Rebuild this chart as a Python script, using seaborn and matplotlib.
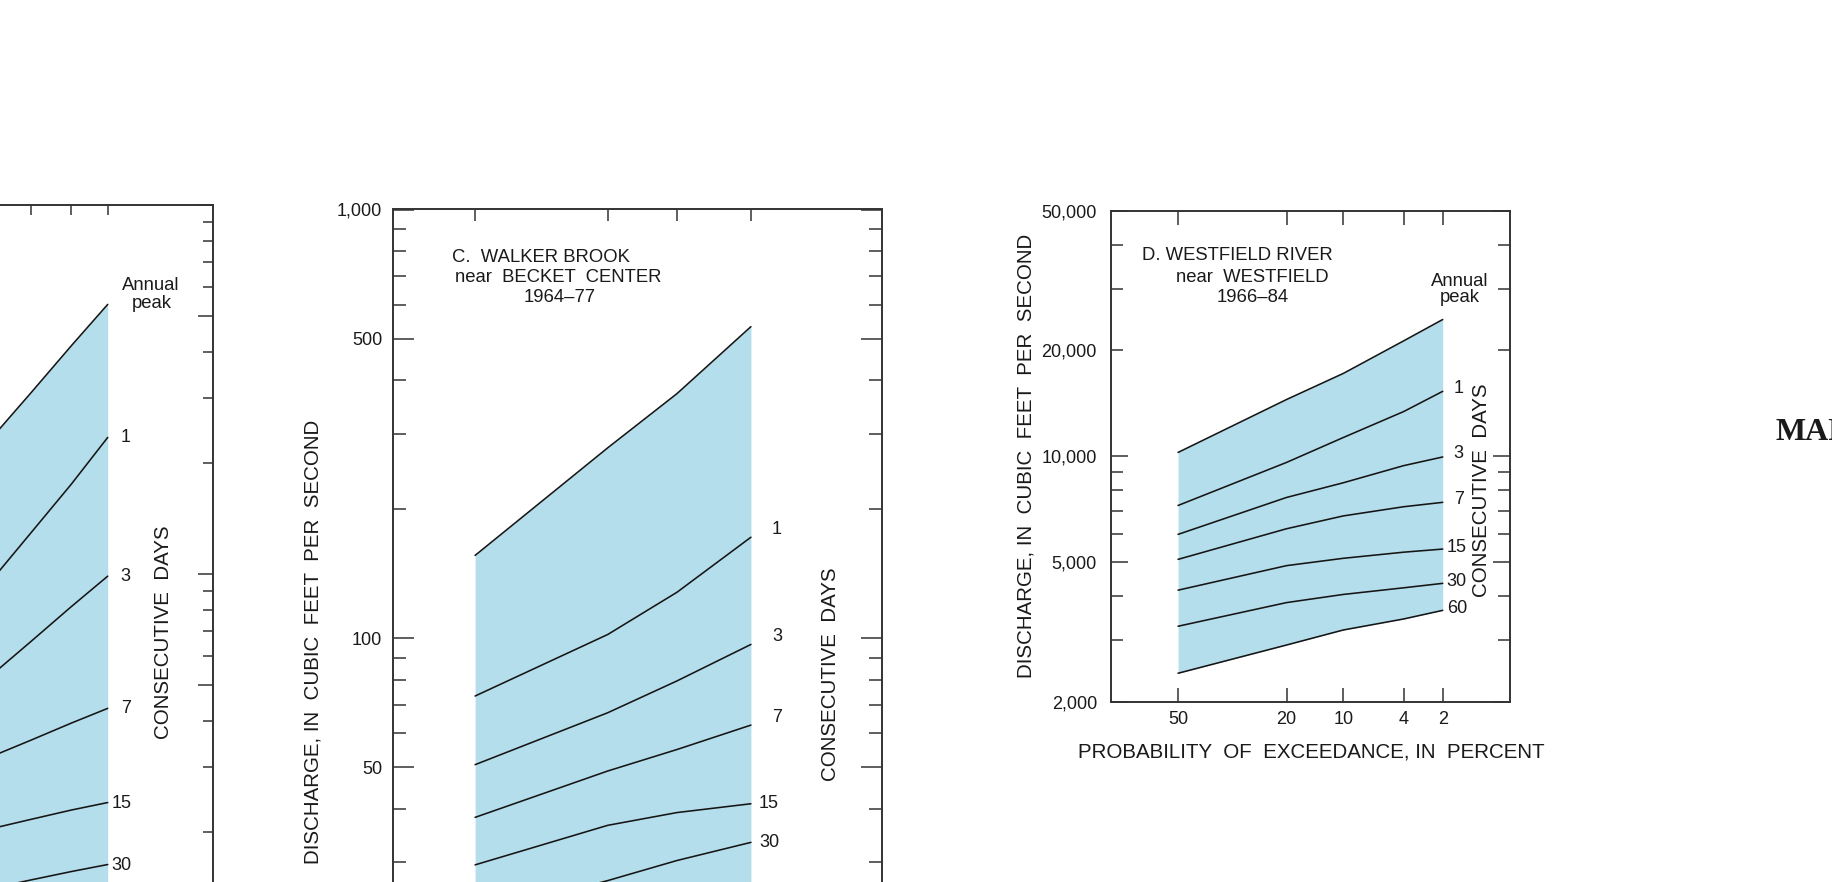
from statistics import NormalDist

import matplotlib
matplotlib.use("Agg")
from matplotlib import pyplot as plt
from matplotlib.ticker import FixedLocator, FuncFormatter, NullLocator
import numpy as np
import pandas as pd
import seaborn as sns

# Exceedance probabilities (percent) at which the curves were read
probs_b = [10, 4, 2, 1]
probs_c = [50, 20, 10, 4]
probs_d = [50, 20, 10, 4, 2]

# Panel B (cut off at the left edge of the page)
b_peak = [1971, 3091, 4152, 5377]
b_1 = [805, 1290, 1750, 2344]
b_3 = [469, 655, 815, 986]
b_7 = [301, 354, 394, 432]
b_15 = [197, 216, 229, 240]
b_30 = [136, 148, 156, 163]

# Panel C: Walker Brook near Becket Center
c_peak = [156, 278, 372, 533]
c_1 = [73.3, 102, 128, 172]
c_3 = [50.7, 67, 79.5, 96.7]
c_7 = [38.2, 49, 55, 62.7]
c_15 = [29.6, 36.6, 39.2, 41.1]
c_30 = [22.6, 27.2, 30.3, 33.4]

# Panel D: Westfield River near Westfield
d_peak = [10250, 14500, 17200, 21300, 24500]
d_1 = [7240, 9600, 11300, 13400, 15300]
d_3 = [5990, 7630, 8400, 9400, 9950]
d_7 = [5085, 6215, 6760, 7180, 7390]
d_15 = [4155, 4880, 5120, 5330, 5440]
d_30 = [3280, 3830, 4040, 4220, 4345]
d_60 = [2410, 2900, 3200, 3440, 3640]

days_b = ['1', '3', '7', '15', '30']
days_c = ['1', '3', '7', '15', '30']
days_d = ['1', '3', '7', '15', '30', '60']

xticks_b = [50, 20, 10, 4, 2, 1]
xticks_c = [50, 20, 10, 4]
xticks_d = [50, 20, 10, 4, 2]
xticklabels_d = ['50', '20', '10', '4', '2']

ymajor_b = [10000, 5000, 1000, 500, 100]
yminor_b = [9000, 8000, 7000, 6000, 4000, 3000, 2000,
            900, 800, 700, 600, 400, 300, 200]
ymajor_c = [1000, 500, 100, 50, 10]
yminor_c = [900, 800, 700, 600, 400, 300, 200, 90, 80, 70, 60, 40, 30, 20]
ymajor_d = [50000, 10000, 5000, 2000]
yminor_d = [40000, 30000, 20000, 9000, 8000, 7000, 6000, 4000, 3000]

W, H = 1832, 882
INK = '#1a1a1a'
FRAME = '#333333'
FILL = '#b4deeb'

sns.set_style('white')
plt.rcParams['font.family'] = ['Liberation Sans', 'DejaVu Sans']

nd = NormalDist()


def fwd(p):
    # exceedance percent -> standard normal deviate (normal probability paper)
    p = np.clip(np.asarray(p, dtype=float), 1e-9, 100 - 1e-9)
    return np.vectorize(lambda v: nd.inv_cdf(1 - v / 100), otypes=[float])(p)


def inv(z):
    z = np.asarray(z, dtype=float)
    return np.vectorize(lambda v: 100 * (1 - nd.cdf(v)), otypes=[float])(z)


def long_frame(probs, curves, names):
    rows = []
    for name, vals in zip(names, curves):
        for p, v in zip(probs, vals):
            rows.append({'prob': p, 'discharge': v, 'curve': name})
    return pd.DataFrame(rows)


def px(x, y):
    return x / W, 1 - y / H


def put(x, y, s, **kw):
    kw.setdefault('color', INK)
    kw.setdefault('ha', 'center')
    kw.setdefault('va', 'center')
    fig.text(*px(x, y), s, **kw)


def panel(box, ylim, xticks, ymajor, yminor, xlen, ymaj_len, ymin_len,
          ypad, xlabels=None, minor_label=None, ylabels=True):
    left, top, right, bottom = box
    ax = fig.add_axes([left / W, 1 - bottom / H, (right - left) / W, (bottom - top) / H])
    ax.set_xscale('function', functions=(fwd, inv))
    ax.set_yscale('log')
    ax.set_ylim(*ylim)
    ax.xaxis.set_major_locator(FixedLocator(xticks))
    ax.xaxis.set_minor_locator(NullLocator())
    if xlabels is None:
        ax.xaxis.set_major_formatter(FuncFormatter(lambda v, pos: ''))
    else:
        lab = dict(zip(xticks, xlabels))
        ax.xaxis.set_major_formatter(FuncFormatter(
            lambda v, pos: next((s for t, s in lab.items() if np.isclose(v, t)), '')))
    ax.yaxis.set_major_locator(FixedLocator(ymajor))
    ax.yaxis.set_minor_locator(FixedLocator(yminor))
    ax.yaxis.set_major_formatter(FuncFormatter(lambda v, pos: f'{v:,.0f}'))
    if minor_label is None:
        ax.yaxis.set_minor_formatter(FuncFormatter(lambda v, pos: ''))
    else:
        ax.yaxis.set_minor_formatter(FuncFormatter(
            lambda v, pos: f'{v:,.0f}' if np.isclose(v, minor_label) else ''))
    ax.tick_params(axis='x', which='major', direction='in', length=xlen, width=1.1,
                   color=FRAME, top=True, bottom=True, labelsize=13, labelcolor=INK, pad=7)
    ax.tick_params(axis='y', which='major', direction='in', length=ymaj_len, width=1.1,
                   color=FRAME, left=True, right=True, labelsize=13, labelcolor=INK,
                   pad=ypad, labelleft=ylabels)
    ax.tick_params(axis='y', which='minor', direction='in', length=ymin_len, width=1.1,
                   color=FRAME, left=True, right=True, labelsize=13, labelcolor=INK,
                   pad=ypad, labelleft=ylabels)
    for sp in ax.spines.values():
        sp.set_visible(True)
        sp.set_color(FRAME)
        sp.set_linewidth(1.4)
    ax.set_facecolor('none')
    return ax


def set_prob_limits(ax, high, low):
    # high exceedance (e.g. 70 %) on the left, rare floods on the right
    ax.set_xlim(high, low)
    y0 = ax.get_ylim()[0]
    xa = ax.transData.transform((high, y0))[0]
    xb = ax.transData.transform((low, y0))[0]
    if xa > xb:
        ax.invert_xaxis()


def draw_curves(ax, probs, peak, days, names, lower):
    df = long_frame(probs, [peak] + days, ['peak'] + names)
    ax.fill_between(probs, lower, peak, color=FILL, lw=0, zorder=0)
    sns.lineplot(data=df, x='prob', y='discharge', units='curve', estimator=None,
                 color='#151515', lw=1.15, ax=ax, legend=False)
    ax.set_xlabel('')
    ax.set_ylabel('')


def label_days(ax, probs, days, names, single, double):
    for vals, lab in zip(days, names):
        dx, dy = single if len(lab) == 1 else double
        ax.annotate(lab, xy=(probs[-1], vals[-1]), xytext=(dx * 0.72, dy * 0.72),
                    textcoords='offset points', ha='left', va='center',
                    fontsize=13, color=INK, annotation_clip=False)


fig = plt.figure(figsize=(W / 100, H / 100), dpi=100)
fig.patch.set_facecolor('white')

# ---- Panel B (partial, its left side is off the page) ----
ax_b = panel((-273.6, 205, 213.2, 942.8), (100, 10000),
             xticks_b, ymajor_b, yminor_b, 7.2, 10.8, 7.2, 8, ylabels=False)
curves_b = [b_1, b_3, b_7, b_15, b_30]
draw_curves(ax_b, probs_b, b_peak, curves_b, days_b, 100)
set_prob_limits(ax_b, 70, 0.092)
ax_b.set_ylim(100, 10000)
label_days(ax_b, probs_b, curves_b, days_b, (13, 0), (4, -1))
put(151, 285, 'Annual', fontsize=13.3)
put(151.5, 304, 'peak', fontsize=13.3)
put(163.5, 632, 'CONSECUTIVE  DAYS', fontsize=14.8, rotation=90)

# ---- Panel C ----
ax_c = panel((392.5, 209.5, 882, 1066.9), (10, 1000),
             xticks_c, ymajor_c, yminor_c, 8.9, 15, 9.4, 7.5)
curves_c = [c_1, c_3, c_7, c_15, c_30]
draw_curves(ax_c, probs_c, c_peak, curves_c, days_c, 10)
set_prob_limits(ax_c, 70, 0.49)
ax_c.set_ylim(10, 1000)
label_days(ax_c, probs_c, curves_c, days_c, (21, 7.5), (8, 0))
put(541, 257.5, 'C.  WALKER BROOK', fontsize=13.3)
put(558, 277, 'near  BECKET  CENTER', fontsize=13.3)
put(560, 298, '1964\u201377', fontsize=13.3)
put(313, 642, 'DISCHARGE, IN  CUBIC  FEET  PER  SECOND', fontsize=14.8, rotation=90)
put(830.5, 674.5, 'CONSECUTIVE  DAYS', fontsize=14.8, rotation=90)

# ---- Panel D ----
ax_d = panel((1110.5, 210.7, 1510, 701.7), (2000, 50000),
             xticks_d, ymajor_d, yminor_d, 10, 12.2, 8.6, 9.8,
             xlabels=xticklabels_d, minor_label=20000)
curves_d = [d_1, d_3, d_7, d_15, d_30, d_60]
draw_curves(ax_d, probs_d, d_peak, curves_d, days_d, d_60)
set_prob_limits(ax_d, 70, 0.5)
ax_d.set_ylim(2000, 50000)
label_days(ax_d, probs_d, curves_d, days_d, (11, 3), (4, 2))
put(1237, 256, 'D. WESTFIELD RIVER', fontsize=13.3)
put(1252, 277, 'near  WESTFIELD', fontsize=13.3)
put(1253, 297, '1966\u201384', fontsize=13.3)
put(1460, 281.5, 'Annual', fontsize=13.3)
put(1460, 297.5, 'peak', fontsize=13.3)
put(1481.5, 490.5, 'CONSECUTIVE  DAYS', fontsize=14.8, rotation=90)
put(1025.5, 456, 'DISCHARGE, IN  CUBIC  FEET  PER  SECOND', fontsize=14.8, rotation=90)
put(1311.5, 752.5, 'PROBABILITY  OF  EXCEEDANCE, IN  PERCENT', fontsize=14.8)

# page text running off the right edge
fig.text(*px(1776, 440), 'MAP', fontsize=23, fontweight='bold',
         family=['Liberation Serif', 'DejaVu Serif'], ha='left', va='baseline', color=INK)

fig.savefig('out.png', dpi=100, facecolor='white')
